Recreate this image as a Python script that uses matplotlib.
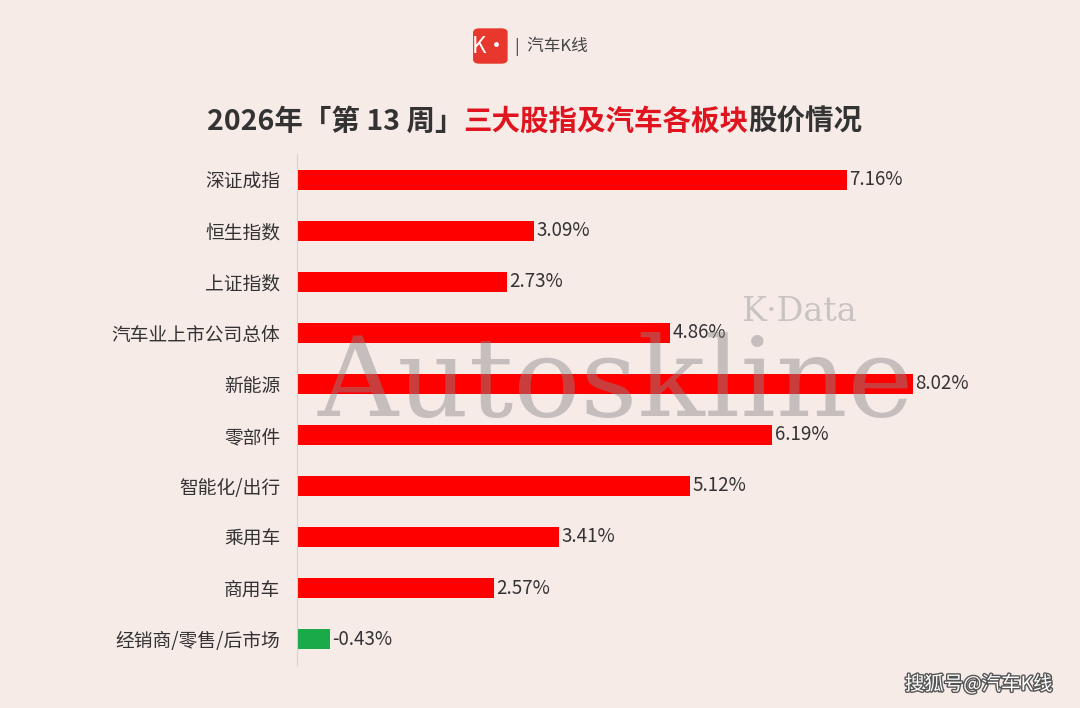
import matplotlib
matplotlib.use("Agg")
import matplotlib.pyplot as plt
from matplotlib.patches import FancyBboxPatch
import matplotlib.patheffects as pe

plt.rcParams['font.family'] = ['Noto Sans CJK SC', 'DejaVu Sans']

categories = ["深证成指", "恒生指数", "上证指数", "汽车业上市公司总体", "新能源", "零部件",
              "智能化/出行", "乘用车", "商用车", "经销商/零售/后市场"]
values = [7.16, 3.09, 2.73, 4.86, 8.02, 6.19, 5.12, 3.41, 2.57, -0.43]

BG = "#f7ebe8"
fig = plt.figure(figsize=(10.8, 7.08), dpi=100, facecolor=BG)
ax = fig.add_axes([0.275, 0.0614, 0.64, 0.7206], facecolor=BG)
ys = list(range(len(categories)))
colors = ["#ff0000" if v >= 0 else "#1aaa4a" for v in values]
ax.barh(ys, [abs(v) for v in values], height=0.4, color=colors, zorder=2)
for y, v in zip(ys, values):
    ax.text(abs(v) + 0.03, y, f"{v:.2f}%", va="center", ha="left", fontsize=13.5, color="#333333")
ax.set_yticks(ys)
ax.set_yticklabels(categories, fontsize=13.5, color="#333333")
ax.tick_params(axis="y", length=0, pad=12)
ax.set_xticks([])
ax.set_xlim(0, 9)
ax.set_ylim(len(categories) - 0.5, -0.5)
for s in ["top", "right", "bottom"]:
    ax.spines[s].set_visible(False)
ax.spines["left"].set_color("#d8d0ce")

# watermark
fig.text(0.57, 0.455, "Autoskline", fontsize=80, family="DejaVu Serif", color="#888888",
         alpha=0.45, ha="center", va="center", zorder=10)
fig.text(0.74, 0.56, "K·Data", fontsize=24, family="DejaVu Serif", color="#aaaaaa",
         alpha=0.6, ha="center", va="center", zorder=10)

# logo
logo = FancyBboxPatch((0.438, 0.91), 0.032, 0.05, boxstyle="round,pad=0,rounding_size=0.006",
                      transform=fig.transFigure, facecolor="#e8372c", edgecolor="none")
fig.patches.append(logo)
fig.text(0.454, 0.935, "K·", fontsize=16, color="white", ha="center", va="center")
fig.text(0.477, 0.935, "|  汽车K线", fontsize=12, color="#444444", ha="left", va="center")

# title in three segments
parts = [("2026年「第 13 周」", "#333333"), ("三大股指及汽车各板块", "#e0141e"), ("股价情况", "#333333")]
fig.canvas.draw()
r = fig.canvas.get_renderer()
texts = []
for s, c in parts:
    t = fig.text(0.0, 0.828, s, fontsize=20.5, color=c, fontweight="bold", ha="left", va="center")
    texts.append(t)
widths = [t.get_window_extent(r).width / fig.bbox.width for t in texts]
x = 0.495 - sum(widths) / 2
for t, w in zip(texts, widths):
    t.set_x(x)
    x += w

fig.text(0.975, 0.033, "搜狐号@汽车K线", fontsize=14, color="white", ha="right", va="center",
         path_effects=[pe.withStroke(linewidth=2, foreground="#555555")])

fig.savefig("out.png", dpi=100, facecolor=BG)
